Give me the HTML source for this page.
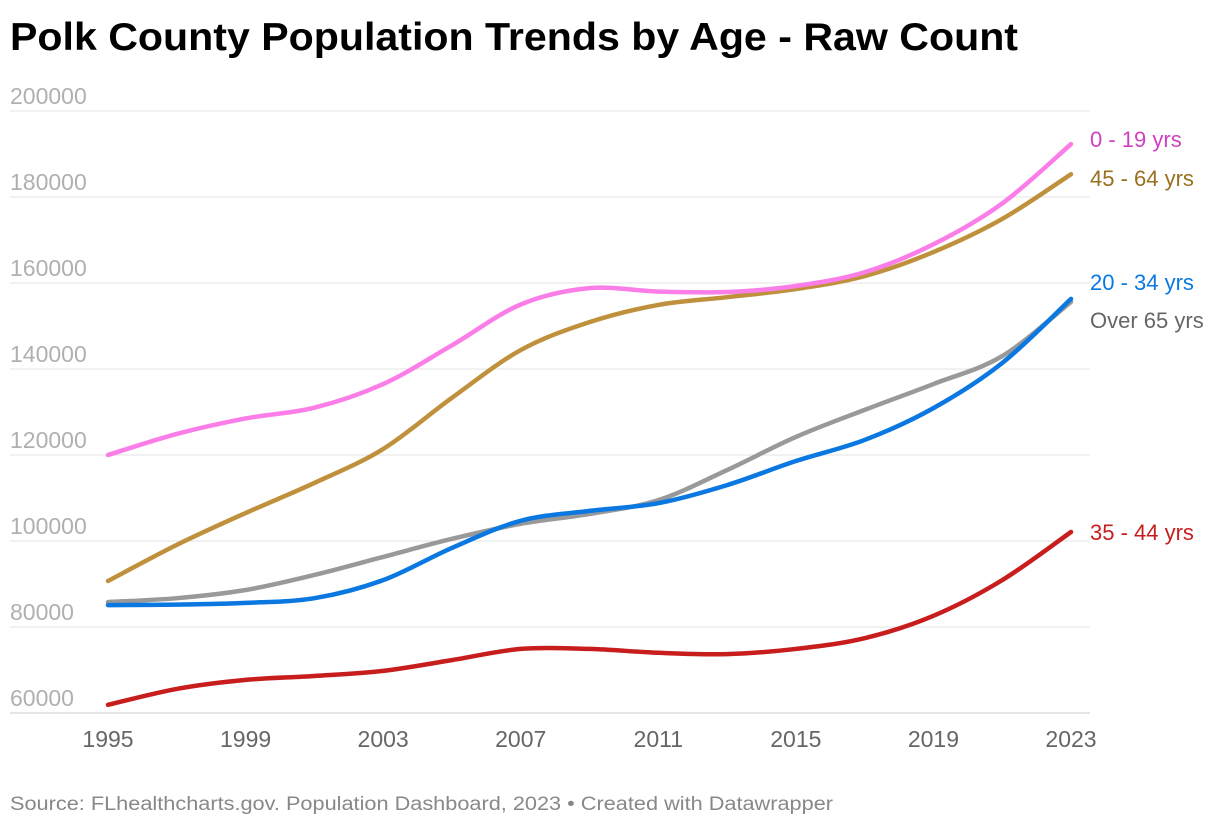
<!DOCTYPE html>
<html><head><meta charset="utf-8">
<style>
body{margin:0;background:#fff;width:1220px;height:828px;overflow:hidden;font-family:"Liberation Sans",sans-serif;}
</style></head>
<body>
<svg id="chart" width="1220" height="828" xmlns="http://www.w3.org/2000/svg">
<text x="10" y="50" font-size="39" font-weight="bold" fill="#000" textLength="1008" lengthAdjust="spacingAndGlyphs">Polk County Population Trends by Age - Raw Count</text>
<g id="grid"></g><g id="lines"></g><g id="labels"></g>
<text x="10" y="810" font-size="19" fill="#888" textLength="823" lengthAdjust="spacingAndGlyphs">Source: FLhealthcharts.gov. Population Dashboard, 2023 • Created with Datawrapper</text>
</svg>
<script>
const years=[1995,1997,1999,2001,2003,2005,2007,2009,2011,2013,2015,2017,2019,2021,2023];
const pinkVals=[120000,124900,128500,131000,136500,145500,155000,158800,158000,157900,159300,162500,169000,178500,192300];
const goldVals=[90700,99100,106500,113500,121400,133300,144400,150900,154900,156700,158600,161600,167200,174900,185300];
const blueVals=[85100,85200,85600,86700,90900,98400,104700,107000,108800,113000,118600,123500,130900,141400,156300];
const grayVals=[85800,86700,88600,92100,96300,100500,104000,106300,109500,116500,124200,130500,136500,143000,155600];
const redVals=[61900,65600,67700,68600,69800,72300,74900,74900,74000,73700,74900,77400,82600,90900,102100];
const yTicks=[60000,80000,100000,120000,140000,160000,180000,200000];
const xTicks=[1995,1999,2003,2007,2011,2015,2019,2023];
const NS="http://www.w3.org/2000/svg";
const X=y=>108+(y-1995)*(1071-108)/28;
const Y=v=>111+(200000-v)*86/20000;
function mk(t,a,p){const e=document.createElementNS(NS,t);for(const k in a)e.setAttribute(k,a[k]);p.appendChild(e);return e;}
const grid=document.getElementById('grid');
yTicks.forEach(v=>{
 const l=mk('line',{x1:10,x2:1090,y1:Y(v),y2:Y(v),stroke:v===60000?'#ccc':'#e3e3e3','stroke-width':1},grid);
 
 
 const t=mk('text',{x:10,y:Y(v)-7,'font-size':23,fill:'#b0b0b0'},grid);t.textContent=v;
 
 
});
xTicks.forEach(y=>{
 const t=mk('text',{x:X(y),y:747,'font-size':23,fill:'#666','text-anchor':'middle'},grid);t.textContent=y;
 
 
});
function path(vals){
 const p=vals.map((v,i)=>[X(years[i]),Y(v)]);
 let d=`M${p[0][0]},${p[0][1]}`;
 for(let i=0;i<p.length-1;i++){
  const p0=p[i-1]||p[i],p1=p[i],p2=p[i+1],p3=p[i+2]||p[i+1];
  const c1=[p1[0]+(p2[0]-p0[0])/6,p1[1]+(p2[1]-p0[1])/6];
  const c2=[p2[0]-(p3[0]-p1[0])/6,p2[1]-(p3[1]-p1[1])/6];
  d+=` C${c1[0]},${c1[1]} ${c2[0]},${c2[1]} ${p2[0]},${p2[1]}`;
 }
 return d;
}
const all=[[grayVals,'#999','#666',"Over 65 yrs",320,'series-over-65'],[redVals,'#c71e1d','#c71e1d',"35 - 44 yrs",532,'series-35-44'],[blueVals,'#0a78e0','#0a78e0',"20 - 34 yrs",282,'series-20-34'],[goldVals,'#c0913d','#9a6f1f',"45 - 64 yrs",178,'series-45-64'],[pinkVals,'#fb7de8','#d040c0',"0 - 19 yrs",139,'series-0-19']];
const lines=document.getElementById('lines'),labels=document.getElementById('labels');
all.forEach(s=>{
 const e=mk('path',{d:path(s[0]),fill:'none',stroke:s[1],'stroke-width':4.5,'stroke-linecap':'round'},lines);
 
 
 const t=mk('text',{x:1090,y:s[4]+8,'font-size':22,fill:s[2]},labels);t.textContent=s[3];
 
 
});
</script>
</body></html>
